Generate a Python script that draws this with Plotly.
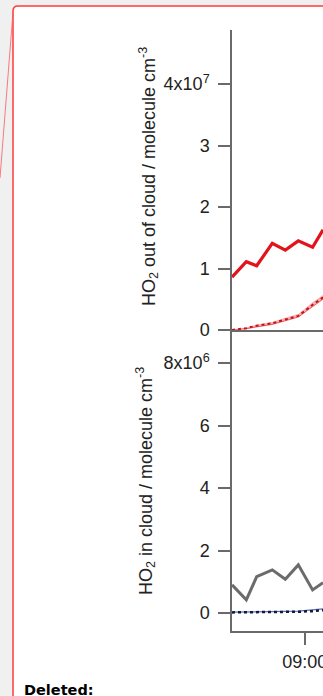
import plotly.graph_objects as go

W, H = 323, 696

# Sampling times (local time)
times = ["2011-10-25 08:04", "2011-10-25 08:15", "2011-10-25 08:23", "2011-10-25 08:35",
         "2011-10-25 08:45", "2011-10-25 08:55", "2011-10-25 09:06", "2011-10-25 09:14"]

# HO2 out of cloud (molecule cm-3)
ho2_out_measured = [0.86e7, 1.11e7, 1.045e7, 1.41e7, 1.30e7, 1.45e7, 1.345e7, 1.63e7]
ho2_out_model = [0.0, 0.03e7, 0.07e7, 0.11e7, 0.17e7, 0.23e7, 0.41e7, 0.53e7]
ho2_out_model_lo = [0.0, 0.02e7, 0.05e7, 0.09e7, 0.15e7, 0.21e7, 0.38e7, 0.50e7]
ho2_out_model_hi = [0.0, 0.04e7, 0.09e7, 0.13e7, 0.20e7, 0.26e7, 0.45e7, 0.57e7]

# HO2 in cloud (molecule cm-3)
ho2_in_measured = [0.90e6, 0.42e6, 1.16e6, 1.38e6, 1.08e6, 1.54e6, 0.74e6, 0.97e6]
ho2_in_model = [0.02e6, 0.02e6, 0.02e6, 0.03e6, 0.03e6, 0.04e6, 0.06e6, 0.09e6]
ho2_in_model2 = [0.03e6, 0.03e6, 0.04e6, 0.04e6, 0.05e6, 0.06e6, 0.09e6, 0.13e6]

top_tickvals = [0, 1e7, 2e7, 3e7, 4e7]
top_ticktext = ["0", "1", "2", "3", "4x10<sup>7</sup>"]
bot_tickvals = [0, 2e6, 4e6, 6e6, 8e6]
bot_ticktext = ["0", "2", "4", "6", "8x10<sup>6</sup>"]

x_range = ["2011-10-25 08:04", "2011-10-25 09:14"]


def fx(p):
    return p / W


def fy(p):
    return 1 - p / H


RED = "#e3131b"
AXIS = "#6a6a6a"
FONT = "Liberation Sans, Arial, sans-serif"

fig = go.Figure()

# top panel: model band and lines
fig.add_trace(go.Scatter(x=times, y=ho2_out_model_hi, mode="lines",
                         line=dict(color="rgba(227,19,27,0.0)", width=0),
                         xaxis="x2", yaxis="y2", showlegend=False, hoverinfo="skip"))
fig.add_trace(go.Scatter(x=times, y=ho2_out_model_lo, mode="lines", fill="tonexty",
                         fillcolor="rgba(235,80,80,0.45)",
                         line=dict(color="rgba(227,19,27,0.6)", width=1),
                         xaxis="x2", yaxis="y2", showlegend=False))
fig.add_trace(go.Scatter(x=times, y=ho2_out_model, mode="lines",
                         line=dict(color="#c4121a", width=2, dash="dot"),
                         xaxis="x2", yaxis="y2", showlegend=False))
fig.add_trace(go.Scatter(x=times, y=ho2_out_measured, mode="lines",
                         line=dict(color=RED, width=3.2),
                         xaxis="x2", yaxis="y2", showlegend=False))

# bottom panel
fig.add_trace(go.Scatter(x=times, y=ho2_in_model2, mode="lines",
                         line=dict(color="#5a6fb5", width=1.2),
                         xaxis="x", yaxis="y", showlegend=False))
fig.add_trace(go.Scatter(x=times, y=ho2_in_model, mode="lines",
                         line=dict(color="#141a3c", width=2.5, dash="dot"),
                         xaxis="x", yaxis="y", showlegend=False))
fig.add_trace(go.Scatter(x=times, y=ho2_in_measured, mode="lines",
                         line=dict(color="#6b6b6b", width=3),
                         xaxis="x", yaxis="y", showlegend=False))

x_dom = [fx(232), 1.0]
top_dom = [fy(330), fy(30)]
bot_dom = [fy(631), fy(331)]

# y ranges from pixel scale: top 61.5 px per 1e7, bottom 31.25 px per 1e6
top_range = [0, (330 - 30) / 61.5 * 1e7]
bot_range = [-(631 - 613) / 31.25 * 1e6, (613 - 331) / 31.25 * 1e6]

axis_common = dict(showline=True, linecolor=AXIS, linewidth=1.5, ticks="outside",
                   ticklen=12, tickwidth=1.5, tickcolor=AXIS, showgrid=False,
                   zeroline=False, automargin=False, ticklabeloverflow="allow",
                   tickfont=dict(family=FONT, size=18, color="#222"))

rect_path = (f"M {fx(13)},{fy(720)} L {fx(13)},{fy(11)} "
             f"Q {fx(13)},{fy(6)} {fx(18)},{fy(6)} L {fx(340)},{fy(6)} "
             f"L {fx(340)},{fy(720)} Z")

fig.update_layout(
    width=W, height=H,
    margin=dict(l=0, r=0, t=0, b=0, autoexpand=False),
    paper_bgcolor="#f0f0f0",
    plot_bgcolor="rgba(0,0,0,0)",
    showlegend=False,
    xaxis=dict(domain=x_dom, anchor="y", type="date", range=x_range,
               tick0="2011-10-25 09:00", dtick=3600000, tickformat="%H:%M",
               ticklabelstandoff=2, **axis_common),
    xaxis2=dict(domain=x_dom, anchor="y2", type="date", range=x_range,
                matches="x", showticklabels=False, showline=True, linecolor=AXIS,
                linewidth=1.5, ticks="", showgrid=False, zeroline=False, automargin=False),
    yaxis=dict(domain=bot_dom, anchor="x", range=bot_range,
               tickvals=bot_tickvals, ticktext=bot_ticktext,
               ticklabelstandoff=5, **axis_common),
    yaxis2=dict(domain=top_dom, anchor="x2", range=top_range,
                tickvals=top_tickvals, ticktext=top_ticktext,
                ticklabelstandoff=5, **axis_common),
    shapes=[
        dict(type="path", xref="paper", yref="paper", path=rect_path,
             fillcolor="white", line=dict(color="#ff3b3b", width=1.5), layer="below"),
        dict(type="line", xref="paper", yref="paper",
             x0=fx(13), y0=fy(12), x1=fx(0), y1=fy(178),
             line=dict(color="rgba(255,90,90,0.8)", width=1), layer="below"),
    ],
    annotations=[
        dict(xref="paper", yref="paper", x=fx(148), y=fy(177), textangle=-90,
             text="HO<sub>2</sub> out of cloud / molecule cm<sup>-3</sup>",
             showarrow=False, xanchor="center", yanchor="middle",
             font=dict(family=FONT, size=18, color="#222")),
        dict(xref="paper", yref="paper", x=fx(145), y=fy(481), textangle=-90,
             text="HO<sub>2</sub> in cloud / molecule cm<sup>-3</sup>",
             showarrow=False, xanchor="center", yanchor="middle",
             font=dict(family=FONT, size=18, color="#222")),
        dict(xref="paper", yref="paper", x=fx(22), y=fy(690),
             text="<b>Deleted:</b>", showarrow=False, xanchor="left", yanchor="middle",
             font=dict(family="DejaVu Sans", size=14.5, color="black")),
    ],
)

fig.write_html("out.html")
